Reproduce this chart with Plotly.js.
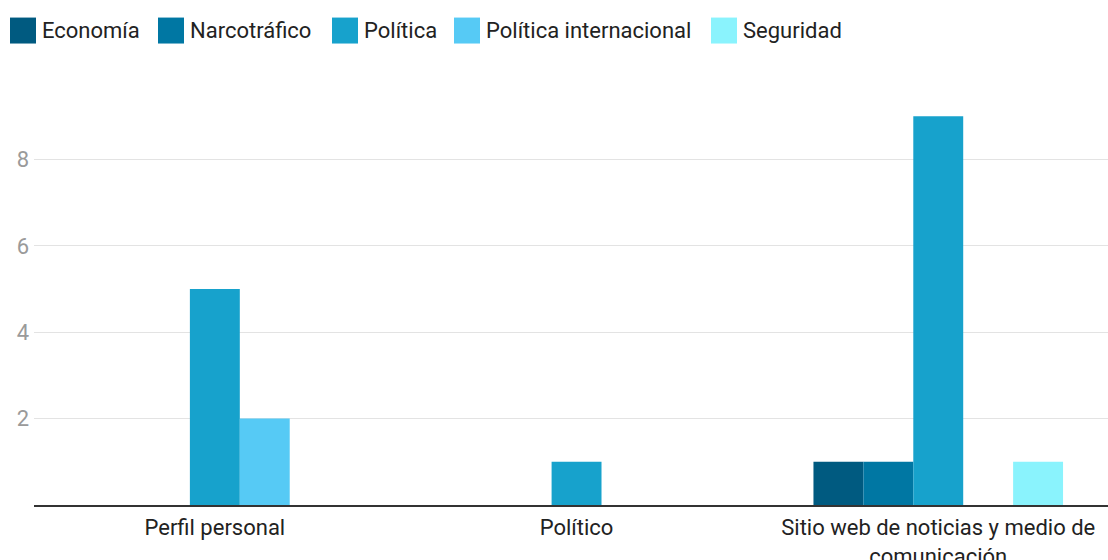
<!DOCTYPE html>
<html>
<head>
<meta charset="utf-8">
<script src="https://cdn.plot.ly/plotly-3.0.1.min.js"></script>
<style>
html,body{margin:0;padding:0;background:#fff;}
#chart{width:1108px;height:560px;}
</style>
</head>
<body>
<div id="chart"></div>
<script>
// Data
var categories = ["Perfil personal", "Político", "Sitio web de noticias y medio de<br>comunicación"];
var seriesNames = ["Economía", "Narcotráfico", "Política", "Política internacional", "Seguridad"];
var economia = [0, 0, 1];
var narcotrafico = [0, 0, 1];
var politica = [5, 1, 9];
var politicaInternacional = [2, 0, 0];
var seguridad = [0, 0, 1];
var yTickVals = [2, 4, 6, 8];

var seriesValues = [economia, narcotrafico, politica, politicaInternacional, seguridad];
var colors = ["#005a80", "#0077a3", "#17a2cc", "#56caf5", "#8af3fd"];

var traces = seriesNames.map(function (name, i) {
  return {
    type: "bar",
    name: name,
    x: categories,
    y: seriesValues[i],
    marker: { color: colors[i], line: { width: 0 } },
    showlegend: false,
    hoverinfo: "x+y+name"
  };
});

var ML = 34, MT = 72.5, MB = 55, W = 1108, H = 560;
var plotW = W - ML, plotH = H - MT - MB;
var catW = 361.7;

// custom legend (large square swatches)
var legendX = [10, 158, 332, 454, 711];
var sw = 26;
var shapes = [];
var annotations = [];
seriesNames.forEach(function (name, i) {
  shapes.push({
    type: "rect", xref: "paper", yref: "paper",
    x0: (legendX[i] - ML) / plotW, x1: (legendX[i] + sw - ML) / plotW,
    y0: (H - MB - 43) / plotH, y1: (H - MB - 17) / plotH,
    line: { width: 0 }, fillcolor: colors[i], layer: "above"
  });
  annotations.push({
    xref: "paper", yref: "paper",
    x: (legendX[i] + sw + 4 - ML) / plotW, y: (H - MB - 30) / plotH,
    xanchor: "left", yanchor: "middle",
    text: name, showarrow: false,
    font: { family: "Roboto", size: 22, color: "#222222" }
  });
});

var layout = {
  width: W, height: H,
  margin: { l: ML, r: 0, t: MT, b: MB },
  paper_bgcolor: "#ffffff", plot_bgcolor: "#ffffff",
  barmode: "group", bargap: 0.31, bargroupgap: 0,
  font: { family: "Roboto", size: 22, color: "#222222" },
  xaxis: {
    type: "category",
    range: [-0.5, -0.5 + plotW / catW],
    showgrid: false, zeroline: false,
    showline: true, linecolor: "#333333", linewidth: 1.5,
    ticks: "", tickfont: { family: "Roboto", size: 22, color: "#222222" },
    ticklabelstandoff: 2,
    fixedrange: true
  },
  yaxis: {
    range: [0, 10],
    tickvals: yTickVals, ticktext: yTickVals.map(String),
    showgrid: true, gridcolor: "#e3e3e3", gridwidth: 1,
    zeroline: false, showline: false, ticks: "",
    tickfont: { family: "Roboto", size: 22, color: "#9a9a9a" },
    ticklabelstandoff: 4,
    fixedrange: true
  },
  showlegend: false,
  shapes: shapes,
  annotations: annotations
};

Plotly.newPlot("chart", traces, layout, { displayModeBar: false, staticPlot: true });
</script>
</body>
</html>
